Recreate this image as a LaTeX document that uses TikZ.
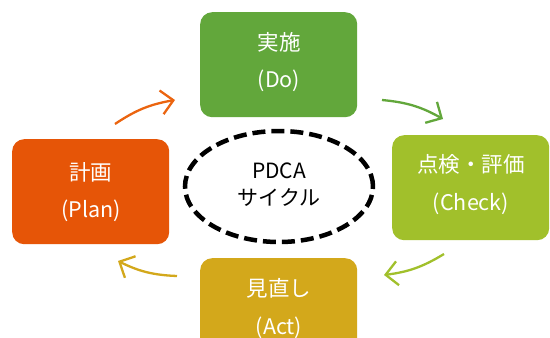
\documentclass[tikz,border=0pt]{standalone}
\usepackage{fontspec}
\setmainfont{Noto Sans CJK JP}
\usetikzlibrary{arrows.meta,shapes.geometric}
\definecolor{cDo}{HTML}{62A73B}
\definecolor{cCheck}{HTML}{A1C02B}
\definecolor{cPlan}{HTML}{E65507}
\definecolor{cAct}{HTML}{D3A81B}
\tikzset{
  phase/.style={rounded corners=12pt, minimum width=157pt, minimum height=105pt, inner sep=0pt, text=white},
  lbl/.style={font=\fontsize{21.5}{24}\selectfont, text=white, inner sep=0pt},
  cyc/.style={line width=2.3pt, -{Straight Barb[length=12pt,width=24pt,line width=2.3pt]}, bend left=12},
}
\begin{document}
\begin{tikzpicture}[x=1pt,y=-1pt]
\useasboundingbox (0,0) rectangle (550,338);
\clip (0,0) rectangle (550,338);
\fill[white] (0,0) rectangle (550,338);
% boxes
\node[phase, fill=cDo, anchor=north west] (do) at (200,12) {};
\node[phase, fill=cCheck, anchor=north west] (check) at (392,135) {};
\node[phase, fill=cPlan, anchor=north west] (plan) at (12,139) {};
\node[phase, fill=cAct, anchor=north west] (act) at (200,258) {};
% labels
\node[lbl] (do1) at (279,42) {実施};
\node[lbl] (do2) at (279,81) {(Do)};
\node[lbl] (ch1) at (471,164) {点検・評価};
\node[lbl] (ch2) at (471,204) {(Check)};
\node[lbl] (pl1) at (91,172) {計画};
\node[lbl] (pl2) at (91,211) {(Plan)};
\node[lbl] (ac1) at (279,288) {見直し};
\node[lbl] (ac2) at (279,328) {(Act)};
% ellipse
\node[ellipse, draw=black, line width=4.5pt, dash pattern=on 13pt off 6pt, minimum width=188pt, minimum height=111pt, inner sep=0pt] (cyc) at (279,186.5) {};
\node[font=\fontsize{21}{24}\selectfont, inner sep=0pt] (t1) at (279,171) {PDCA};
\node[font=\fontsize{21}{24}\selectfont, inner sep=0pt] (t2) at (279,198) {サイクル};
% arrows
\coordinate (a1s) at (115,124);
\coordinate (a1e) at (175,100);
\coordinate (a2s) at (382,100);
\coordinate (a2e) at (443,119);
\coordinate (a3s) at (444,254);
\coordinate (a3e) at (384,275);
\coordinate (a4s) at (177,276);
\coordinate (a4e) at (118,261);
\draw[cyc, color={rgb,255:red,235;green,100;blue,15}] (a1s) to (a1e);
\draw[cyc, color=cDo] (a2s) to (a2e);
\draw[cyc, color=cCheck] (a3s) to (a3e);
\draw[cyc, color=cAct] (a4s) to (a4e);
\end{tikzpicture}
\end{document}
